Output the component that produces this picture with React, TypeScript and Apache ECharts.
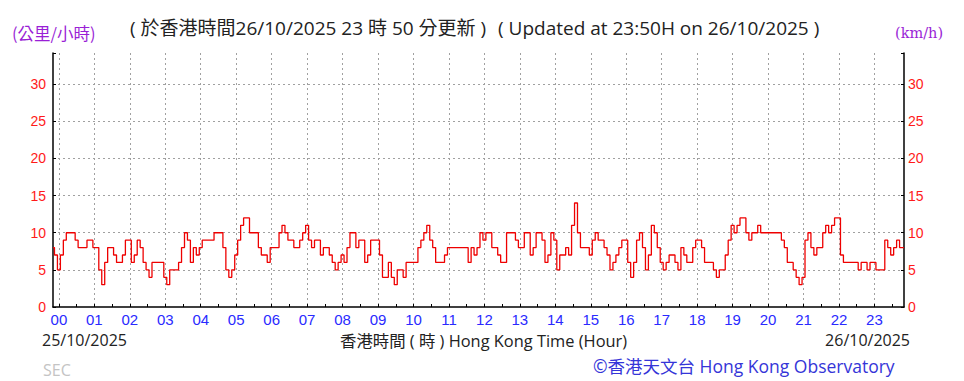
import React, { useEffect, useRef } from "react";
import * as echarts from "echarts";

// 5-minute samples of wind speed (km/h), starting 10 minutes before 00:00 of 25/10/2025
const startMinute = -10;
const stepMinutes = 5;
const windSpeeds = [
  8, 7,
  5, 7, 9, 10, 10, 10, 9, 8, 8, 8, 9, 9,
  8, 8, 5, 3, 6, 8, 8, 7, 6, 6, 7, 9,
  9, 6, 7, 9, 8, 6, 5, 4, 6, 6, 6, 6,
  4, 3, 5, 5, 5, 6, 8, 10, 9, 6, 8, 7,
  8, 9, 9, 9, 9, 10, 10, 10, 8, 5, 4, 5,
  7, 9, 11, 12, 12, 10, 10, 10, 8, 7, 7, 6,
  8, 8, 8, 10, 11, 10, 9, 9, 8, 8, 9, 10,
  11, 9, 8, 9, 9, 7, 8, 8, 7, 6, 5, 6,
  7, 6, 8, 10, 10, 8, 9, 9, 6, 7, 9, 9,
  9, 7, 4, 4, 6, 4, 3, 5, 5, 4, 6, 6,
  6, 6, 8, 9, 10, 11, 9, 8, 6, 6, 6, 7,
  8, 8, 8, 8, 8, 8, 8, 6, 8, 7, 8, 10,
  9, 10, 10, 8, 8, 7, 6, 6, 10, 10, 10, 9,
  8, 8, 10, 10, 7, 8, 10, 10, 9, 6, 7, 10,
  9, 5, 7, 7, 8, 7, 11, 14, 10, 8, 8, 8,
  7, 9, 10, 9, 9, 8, 7, 5, 6, 7, 8, 9,
  9, 6, 4, 6, 9, 10, 8, 5, 7, 11, 10, 8,
  6, 5, 6, 7, 7, 6, 5, 8, 7, 6, 6, 8,
  9, 9, 8, 6, 6, 6, 5, 4, 5, 5, 7, 9,
  11, 10, 11, 12, 12, 10, 9, 10, 10, 11, 10, 10,
  10, 10, 10, 10, 10, 9, 8, 6, 6, 5, 4, 3,
  4, 9, 10, 8, 7, 8, 8, 10, 11, 10, 11, 12,
  12, 7, 6, 6, 6, 6, 6, 5, 6, 6, 5, 6,
  6, 5, 5, 5, 9, 8, 7, 8, 9, 8, 8,
];
const minuteCategories = windSpeeds.map((_, i) => String(startMinute + i * stepMinutes));

const yMin = 0;
const yMax = 34.2;
const yStep = 5;

const titleZh = "( 於香港時間26/10/2025 23 時 50 分更新 )";
const titleEn = "( Updated at 23:50H on 26/10/2025 )";
const unitZh = "(公里/小時)";
const unitEn = "(km/h)";
const startDate = "25/10/2025";
const endDate = "26/10/2025";
const axisTitle = "香港時間 ( 時 ) Hong Kong Time (Hour)";
const copyright = "©香港天文台 Hong Kong Observatory";
const stationCode = "SEC";

const SANS = '"Open Sans", "Noto Sans CJK TC", sans-serif';
const gridColor = "#a0a0a0";

export default function App() {
  const ref = useRef<HTMLDivElement>(null);
  useEffect(() => {
    if (!ref.current) return;
    const chart = echarts.init(ref.current, null, { renderer: "svg" });
    const isHour = (v: string) => {
      const m = Number(v);
      return m >= 0 && m % 60 === 0;
    };
    const isHalfHour = (v: string) => {
      const m = Number(v);
      return m >= 0 && m % 30 === 0;
    };
    const yLabelFmt = (v: number) => (v % yStep === 0 ? String(v) : "");
    chart.setOption({
      animation: false,
      backgroundColor: "#ffffff",
      grid: { left: 53, right: 60, top: 53, bottom: 74, containLabel: false, outerBoundsMode: "none" },
      xAxis: {
        type: "category",
        data: minuteCategories,
        boundaryGap: false,
        axisLine: { lineStyle: { color: "#000", width: 1.5 } },
        axisTick: {
          show: true,
          inside: true,
          length: 3,
          interval: (_i: number, v: string) => isHalfHour(v),
          lineStyle: { color: "#000" },
        },
        axisLabel: {
          interval: (_i: number, v: string) => isHour(v),
          formatter: (v: string) => String(Number(v) / 60).padStart(2, "0"),
          color: "#2a2aff",
          fontSize: 15,
          fontFamily: '"Liberation Sans", Arial, sans-serif',
          margin: 5,
        },
        splitLine: {
          show: true,
          interval: (_i: number, v: string) => isHour(v),
          lineStyle: { color: gridColor, type: [2, 3], width: 1 },
        },
      },
      yAxis: [
        {
          type: "value",
          min: yMin,
          max: yMax,
          interval: yStep,
          position: "left",
          axisLine: { show: true, lineStyle: { color: "#000", width: 1.5 } },
          axisTick: { show: true, inside: true, length: 3, lineStyle: { color: "#000" } },
          axisLabel: {
            formatter: yLabelFmt,
            color: "#ff1a1a",
            fontSize: 14,
            fontFamily: '"Liberation Sans", Arial, sans-serif',
            margin: 7,
          },
          splitLine: {
            show: true,
            showMinLine: false,
            showMaxLine: false,
            lineStyle: { color: gridColor, type: [2, 3], width: 1 },
          },
        },
        {
          type: "value",
          min: yMin,
          max: yMax,
          interval: yStep,
          position: "right",
          axisLine: { show: true, lineStyle: { color: "#000", width: 1.5 } },
          axisTick: { show: true, inside: true, length: 3, lineStyle: { color: "#000" } },
          axisLabel: {
            formatter: yLabelFmt,
            color: "#ff1a1a",
            fontSize: 14,
            fontFamily: '"Liberation Sans", Arial, sans-serif',
            margin: 4,
          },
          splitLine: { show: false },
        },
      ],
      series: [
        {
          type: "line",
          data: windSpeeds,
          yAxisIndex: 0,
          showSymbol: false,
          symbol: "none",
          step: "middle",
          lineStyle: { color: "#ee0000", width: 1.3 },
        },
      ],
      graphic: [
        {
          type: "text",
          x: 12,
          y: 33,
          style: { text: unitZh, fill: "#9a1fd6", fontSize: 16.5, fontFamily: '"Noto Sans CJK TC", sans-serif', verticalAlign: "middle" },
        },
        {
          type: "text",
          x: 130,
          y: 28,
          style: { text: titleZh, fill: "#222", fontSize: 19, fontFamily: SANS, verticalAlign: "middle" },
        },
        {
          type: "text",
          x: 498,
          y: 28,
          style: { text: titleEn, fill: "#222", fontSize: 19, fontFamily: SANS, verticalAlign: "middle" },
        },
        {
          type: "text",
          x: 895,
          y: 33,
          style: { text: unitEn, fill: "#9a1fd6", fontSize: 14.5, fontFamily: '"DejaVu Serif", serif', verticalAlign: "middle" },
        },
        {
          type: "text",
          x: 42,
          y: 340,
          style: { text: startDate, fill: "#222", fontSize: 16, fontFamily: SANS, verticalAlign: "middle" },
        },
        {
          type: "text",
          x: 340,
          y: 340,
          style: { text: axisTitle, fill: "#222", fontSize: 16.4, fontFamily: SANS, verticalAlign: "middle" },
        },
        {
          type: "text",
          x: 910,
          y: 340,
          style: { text: endDate, fill: "#222", fontSize: 16, fontFamily: SANS, align: "right", verticalAlign: "middle" },
        },
        {
          type: "text",
          x: 593,
          y: 366,
          style: { text: copyright, fill: "#3535d8", fontSize: 17.5, fontFamily: SANS, verticalAlign: "middle" },
        },
        {
          type: "text",
          x: 43,
          y: 370,
          style: { text: stationCode, fill: "#c4c4c4", fontSize: 16, fontFamily: SANS, verticalAlign: "middle" },
        },
      ],
    });
    return () => chart.dispose();
  }, []);
  return (
    <div
      ref={ref}
      style={{ position: "fixed", left: 0, top: 0, width: 964, height: 381 }}
    />
  );
}
